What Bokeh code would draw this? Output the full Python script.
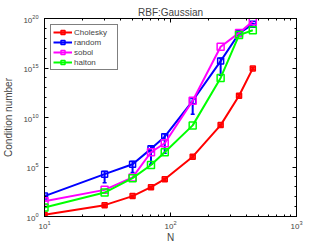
import math
from bokeh.plotting import figure
from bokeh.models import LogAxis, FixedTicker, Legend, LegendItem, Whisker, ColumnDataSource, BasicTickFormatter
from bokeh.embed import file_html
from bokeh.resources import INLINE

N = [10, 30, 50, 70, 90, 150, 250, 350, 450]
cholesky = [1.5e0, 1.4e1, 1.15e2, 9.1e2, 5.9e3, 1.1e6, 1.7e9, 1.6e12, 9.1e14]
cholesky_low = [1.2e0, 1.1e1, 0.9e2, 7.0e2, 4.5e3, 0.8e6, 1.3e9, 1.2e12, 7.0e14]
cholesky_high = [1.8e0, 1.7e1, 1.4e2, 1.1e3, 7.3e3, 1.4e6, 2.1e9, 2.0e12, 1.1e15]
random = [1.15e2, 1.9e4, 1.9e5, 6.8e6, 1.15e8, 4.9e11, 5.0e15, 3.1e18, 2.7e19]
random_low = [1.0e2, 2.5e3, 2.8e4, 1.9e5, 2.5e6, 2.1e10, 1.9e14, 2.5e18, 2.3e19]
random_high = [1.3e2, 3.5e4, 3.5e5, 1.3e7, 2.3e8, 9.6e11, 9.8e15, 3.7e18, 3.1e19]
sobol = [3.5e1, 4.9e2, 8.9e3, 3.1e6, 2.5e7, 4.9e11, 1.4e17, 3.5e18, 5.4e19]
halton = [8.1e0, 2.6e2, 7.5e3, 1.6e5, 3.1e6, 1.6e9, 1.0e14, 2.1e18, 6.6e18]

x_ticks = [10, 100, 1000]
y_ticks = [1e0, 1e5, 1e10, 1e15, 1e20]
x_minor = [v * m for v in [10, 100] for m in range(2, 10)]
y_minor = [10.0 ** k for k in range(0, 21)]

FONT = "Liberation Sans"

p = figure(width=327, height=245, x_axis_type="log", y_axis_type="log",
           x_range=(10, 1000), y_range=(1, 1e20),
           output_backend="svg", toolbar_location=None,
           min_border_left=43, min_border_right=31, min_border_top=18, min_border_bottom=28)
p.xgrid.visible = False
p.ygrid.visible = False
p.outline_line_color = "black"
p.outline_line_width = 1
p.background_fill_color = "white"
p.border_fill_color = "white"

p.title.text = "RBF:Gaussian"
p.title.align = "center"
p.title.text_font = FONT
p.title.text_font_size = "10px"
p.title.text_font_style = "normal"
p.title.standoff = 2

def style_axis(ax, labels=True):
    ax.axis_line_color = "black"
    ax.major_tick_in = 4
    ax.major_tick_out = 0
    ax.minor_tick_in = 2
    ax.minor_tick_out = 0
    ax.major_label_text_font = FONT
    ax.major_label_text_font_size = "8px" if labels else "1px"
    if not labels:
        ax.major_label_text_color = None
        ax.formatter = BasicTickFormatter()
    ax.major_label_standoff = 4 if labels else 0
    ax.axis_label_text_font = FONT
    ax.axis_label_text_font_size = "10px"
    ax.axis_label_text_font_style = "normal"
    ax.axis_label_standoff = 0

xt = FixedTicker(ticks=x_ticks, minor_ticks=x_minor)
yt = FixedTicker(ticks=y_ticks, minor_ticks=y_minor)
p.xaxis.ticker = xt
p.yaxis.ticker = yt
style_axis(p.xaxis[0])
style_axis(p.yaxis[0])
p.yaxis.major_label_standoff = 6
p.yaxis.axis_label_standoff = 6
p.xaxis.axis_label = "N"
p.yaxis.axis_label = "Condition number"

top = LogAxis(ticker=FixedTicker(ticks=x_ticks, minor_ticks=x_minor))
style_axis(top, labels=False)
p.add_layout(top, "above")
right = LogAxis(ticker=FixedTicker(ticks=y_ticks, minor_ticks=y_minor))
style_axis(right, labels=False)
p.add_layout(right, "right")

def series(y, color, size, low=None, high=None, fill=None, fill_alpha=0.0):
    src = ColumnDataSource(dict(x=N, y=y))
    r_line = p.line("x", "y", source=src, line_color=color, line_width=2)
    rends = [r_line]
    if low is not None:
        esrc = ColumnDataSource(dict(x=N, lo=low, hi=high))
        w = Whisker(base="x", lower="lo", upper="hi", source=esrc, dimension="height",
                    line_color=color, line_width=2)
        w.upper_head.size = 4
        w.lower_head.size = 4
        w.upper_head.line_color = color
        w.lower_head.line_color = color
        w.upper_head.line_width = 1.5
        w.lower_head.line_width = 1.5
        p.add_layout(w)
        # legend-only vertical error glyph (no data drawn on the plot)
        r_e = p.scatter(x=[math.nan], y=[math.nan], marker="dash", angle=math.pi / 2,
                        size=9, line_color=color, line_width=1.5)
        rends.append(r_e)
    r_m = p.scatter("x", "y", source=src, marker="square", size=size, line_color=color,
                    line_width=1.5, fill_color=fill if fill else "white",
                    fill_alpha=fill_alpha if fill else 0.0)
    rends.append(r_m)
    return rends

r_ch = series(cholesky, "#ff0000", 5, cholesky_low, cholesky_high, fill="#ff0000", fill_alpha=0.5)
r_ra = series(random, "#0000ff", 6, random_low, random_high)
r_so = series(sobol, "#ff00ff", 7)
r_ha = series(halton, "#00ff00", 7)

legend = Legend(items=[
    LegendItem(label="Cholesky", renderers=r_ch),
    LegendItem(label="random", renderers=r_ra),
    LegendItem(label="sobol", renderers=r_so),
    LegendItem(label="halton", renderers=r_ha),
], location="top_left")
legend.label_text_font = FONT
legend.label_text_font_size = "8px"
legend.glyph_width = 19
legend.glyph_height = 10
legend.label_height = 10
legend.label_width = 41
legend.label_standoff = 2
legend.spacing = 0
legend.padding = 2
legend.margin = 6
legend.border_line_color = "black"
legend.border_line_width = 1
legend.background_fill_alpha = 1
p.add_layout(legend, "center")

open("out.html", "w").write(file_html(p, INLINE))
